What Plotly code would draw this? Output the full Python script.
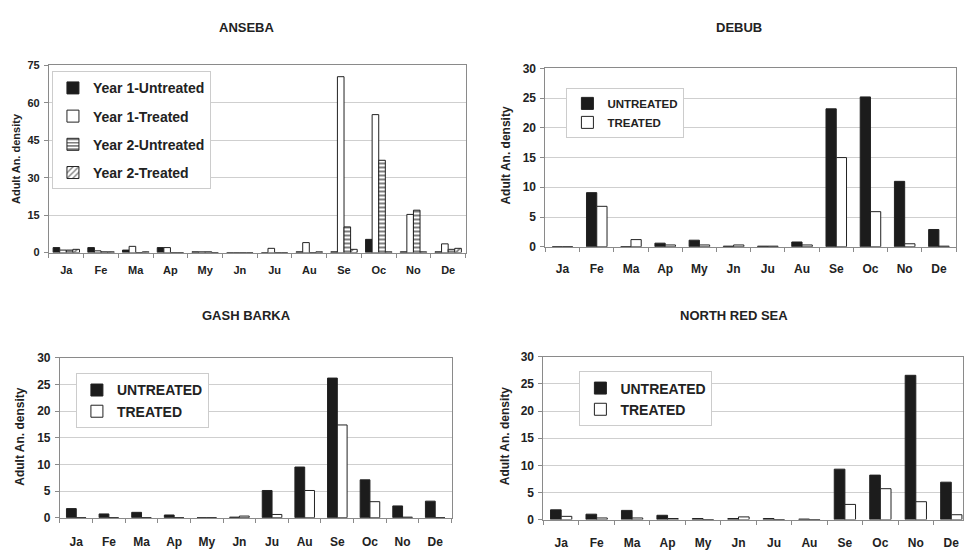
import plotly.graph_objects as go

months = ["Ja", "Fe", "Ma", "Ap", "My", "Jn", "Ju", "Au", "Se", "Oc", "No", "De"]

# ANSEBA
anseba_y1_untreated = [2.0, 2.0, 1.0, 2.0, 0.3, 0.0, 0.0, 0.3, 0.3, 5.3, 0.3, 0.3]
anseba_y1_treated   = [1.0, 0.7, 2.5, 2.0, 0.3, 0.0, 1.7, 4.0, 70.5, 55.3, 15.3, 3.5]
anseba_y2_untreated = [1.0, 0.3, 0.0, 0.0, 0.3, 0.0, 0.0, 0.0, 10.3, 37.0, 17.0, 1.3]
anseba_y2_treated   = [1.3, 0.3, 0.3, 0.0, 0.0, 0.0, 0.0, 0.3, 1.3, 0.3, 0.3, 1.7]

# DEBUB
debub_untreated = [0.0, 9.1, 0.0, 0.6, 1.1, 0.1, 0.1, 0.8, 23.2, 25.2, 11.0, 2.9]
debub_treated   = [0.0, 6.8, 1.2, 0.3, 0.3, 0.3, 0.1, 0.3, 15.0, 5.9, 0.5, 0.1]

# GASH BARKA
gash_untreated = [1.7, 0.7, 1.0, 0.5, 0.0, 0.1, 5.1, 9.5, 26.2, 7.1, 2.2, 3.1]
gash_treated   = [0.0, 0.0, 0.0, 0.0, 0.0, 0.3, 0.6, 5.1, 17.4, 3.0, 0.1, 0.0]

# NORTH RED SEA
nrs_untreated = [1.8, 1.0, 1.7, 0.8, 0.2, 0.2, 0.2, 0.1, 9.3, 8.2, 26.6, 6.9]
nrs_treated   = [0.6, 0.3, 0.3, 0.2, 0.0, 0.5, 0.0, 0.0, 2.8, 5.7, 3.3, 0.9]

W, H = 964, 550
FONT = "Liberation Sans, Arial, sans-serif"
BLACK = "#1c1c1c"
EDGE = "#222222"
GRID = "#cfcfcf"
FRAME = "#8a8a8a"

xpos = list(range(len(months)))

fig = go.Figure()

def px_x(v):
    return v / W

def px_y(v):
    return 1 - v / H

# panel geometry in pixels: (left, right, bottom(zero), top(max))
panels = {
    "1": dict(x0=49, x1=466, yb=252, yt=60, ymax=75, dtick=15, xr=[-0.5, 11.5], st=7),
    "2": dict(x0=546, x1=957, yb=246, yt=63, ymax=30, dtick=5, xr=[-0.5, 11.5], st=11),
    "3": dict(x0=60, x1=452, yb=524, yt=360, ymax=30, dtick=5, xr=[-0.5, 11.5], st=13),
    "4": dict(x0=544, x1=964, yb=526, yt=359, ymax=30, dtick=5, xr=[-0.5, 11.33], st=12),
}

def add_bar(name, y, axis, width, offset, color, legend, pattern=None):
    kw = dict(
        x=xpos, y=y, name=name, width=width, offset=offset,
        marker=dict(color=color, line=dict(color=EDGE, width=1)),
        xaxis="x" + ("" if axis == "1" else axis),
        yaxis="y" + ("" if axis == "1" else axis),
        legend=legend, legendgroup=legend + name,
        hoverinfo="skip",
    )
    if pattern:
        kw["marker"]["pattern"] = pattern
    fig.add_trace(go.Bar(**kw))

# ANSEBA: four bars
bw4 = 0.19
add_bar("Year 1-Untreated", anseba_y1_untreated, "1", bw4, -2 * bw4, BLACK, "legend")
add_bar("Year 1-Treated", anseba_y1_treated, "1", bw4, -bw4, "white", "legend")
add_bar("Year 2-Untreated", anseba_y2_untreated, "1", bw4, 0, "white", "legend",
        pattern=dict(shape="-", fgcolor="#000000", bgcolor="white", size=4, solidity=0.5, fillmode="overlay"))
add_bar("Year 2-Treated", anseba_y2_treated, "1", bw4, bw4, "white", "legend",
        pattern=dict(shape="/", fgcolor="#000000", bgcolor="white", size=5, solidity=0.35, fillmode="overlay"))

bw2 = 0.3
add_bar("UNTREATED", debub_untreated, "2", bw2, -bw2, BLACK, "legend2")
add_bar("TREATED", debub_treated, "2", bw2, 0, "white", "legend2")
add_bar("UNTREATED", gash_untreated, "3", bw2, -bw2, BLACK, "legend3")
add_bar("TREATED", gash_treated, "3", bw2, 0, "white", "legend3")
add_bar("UNTREATED", nrs_untreated, "4", bw2, -bw2, BLACK, "legend4")
add_bar("TREATED", nrs_treated, "4", bw2, 0, "white", "legend4")

layout = dict(
    width=W, height=H,
    margin=dict(l=0, r=0, t=0, b=0),
    paper_bgcolor="white", plot_bgcolor="white",
    barmode="overlay",
    showlegend=True,
    font=dict(family=FONT, color="#222222"),
)

for k, p in panels.items():
    xa = "xaxis" + ("" if k == "1" else k)
    ya = "yaxis" + ("" if k == "1" else k)
    yref_name = "y" + ("" if k == "1" else k)
    xref_name = "x" + ("" if k == "1" else k)
    layout[xa] = dict(
        domain=[px_x(p["x0"]), min(1.0, px_x(p["x1"]))],
        range=p["xr"], anchor=yref_name,
        tickvals=xpos, ticktext=months, ticks="",
        showgrid=False, zeroline=False,
        showline=True, linecolor=FRAME, linewidth=1, mirror=True,
        tickfont=dict(family=FONT, size=11 if k == "1" else 12, weight="bold", color="#222222"),
        ticklabelstandoff=p["st"],
        minor=dict(tick0=0.5, dtick=1, ticks="outside", ticklen=4, tickcolor=FRAME, showgrid=False),
        fixedrange=True,
    )
    layout[ya] = dict(
        domain=[px_y(p["yb"]), px_y(p["yt"])],
        range=[0, p["ymax"]], anchor=xref_name,
        dtick=p["dtick"], tick0=0,
        ticks="outside", ticklen=4, tickcolor=FRAME,
        showgrid=True, gridcolor=GRID, gridwidth=1,
        zeroline=False,
        showline=True, linecolor=FRAME, linewidth=1, mirror=True,
        tickfont=dict(family=FONT, size=11 if k == "1" else 12, weight="bold", color="#222222"),
        ticklabelstandoff=2,
        fixedrange=True,
    )

# legends
def legend_cfg(xpx, ypx, fs, gap):
    return dict(
        x=px_x(xpx), y=px_y(ypx), xanchor="left", yanchor="top",
        xref="paper", yref="paper",
        bgcolor="white", bordercolor="#cccccc", borderwidth=1,
        font=dict(family=FONT, size=fs, weight="bold", color="#222222"),
        traceorder="grouped", tracegroupgap=gap,
        itemclick=False, itemdoubleclick=False,
    )

layout["legend"] = legend_cfg(52, 66, 14, 7)
layout["legend2"] = legend_cfg(567, 83, 11.5, 0)
layout["legend3"] = legend_cfg(76, 376, 14, 0)
layout["legend4"] = legend_cfg(580, 374, 14, 0)

# titles and y axis titles
titles = [("ANSEBA", 247, 21), ("DEBUB", 740, 21), ("GASH BARKA", 247, 317), ("NORTH RED SEA", 735, 317)]
annotations = []
for t, xp, yp in titles:
    annotations.append(dict(
        text=t, x=px_x(xp), y=px_y(yp), xref="paper", yref="paper",
        xanchor="center", yanchor="middle", showarrow=False,
        font=dict(family=FONT, size=13, weight="bold", color="#222222"),
    ))
ytitles = [(16, 155, 11), (507, 152, 12), (20, 440, 12), (505, 440, 12)]
for xp, yp, fs in ytitles:
    annotations.append(dict(
        text="Adult An. density", x=px_x(xp), y=px_y(yp), xref="paper", yref="paper",
        xanchor="center", yanchor="middle", showarrow=False, textangle=-90,
        font=dict(family=FONT, size=fs, weight="bold", color="#222222"),
    ))
layout["annotations"] = annotations

fig.update_layout(**layout)
fig.write_html("out.html", config={"displayModeBar": False},
               post_script="document.body.style.margin='0';document.body.style.overflow='hidden';")
